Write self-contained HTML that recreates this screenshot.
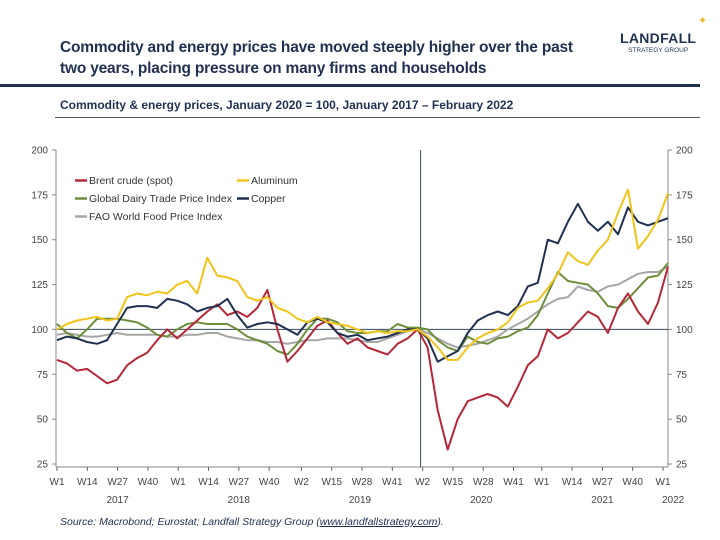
<!DOCTYPE html>
<html><head><meta charset="utf-8">
<style>
body{margin:0;background:#fff;font-family:"Liberation Sans",sans-serif;}
#wrap{position:relative;width:720px;height:540px;overflow:hidden;background:#fff;}
.title{position:absolute;left:60px;top:37px;font-size:15.5px;font-weight:bold;color:#1f3050;line-height:21px;letter-spacing:-0.2px;}
.logo{position:absolute;left:620px;top:30px;color:#1f3050;text-align:center;}
.sub{position:absolute;left:60px;top:98px;font-size:12px;font-weight:bold;color:#1f3050;}
.src{position:absolute;left:60px;top:516px;font-size:10.5px;font-style:italic;color:#1f3050;}
</style></head><body>
<div id="wrap">
<div class="title">Commodity and energy prices have moved steeply higher over the past<br>two years, placing pressure on many firms and households</div>
<div class="logo"><div style="font-size:14px;font-weight:bold;letter-spacing:0.3px">LANDFALL</div><div style="font-size:6.5px;margin-top:1px">STRATEGY GROUP</div><div style="position:absolute;left:78px;top:-16px;color:#e8b830;font-size:11px">✦</div></div>
<div style="position:absolute;left:0;top:84px;width:700px;height:3px;background:#1f3050"></div>
<div class="sub">Commodity &amp; energy prices, January 2020 = 100, January 2017 – February 2022</div>
<div style="position:absolute;left:55px;top:117px;width:645px;height:1px;background:#555"></div>
<svg id="chart" width="720" height="540" style="position:absolute;left:0;top:0"></svg>
<div class="src">Source: Macrobond; Eurostat; Landfall Strategy Group (<span style="text-decoration:underline">www.landfallstrategy.com</span>).</div>
</div>
<script>
const yTicks=[25,50,75,100,125,150,175,200];
const weekLabels=["W1","W14","W27","W40","W1","W14","W27","W40","W2","W15","W28","W41","W2","W15","W28","W41","W1","W14","W27","W40","W1"];
const weekMonths=[0,3,6,9,12,15,18,21,24.2,27.2,30.2,33.2,36.2,39.2,42.2,45.2,48,51,54,57,60];
const yearLabels=["2017","2018","2019","2020","2021","2022"];
const yearMonths=[6,18,30,42,54,61];
const brent=[83,81,77,78,74,70,72,80,84,87,94,100, 95,100,105,110,114,108,110,107,112,122,100,82, 88,95,102,105,98,92,95,90,88,86,92,95, 100,90,55,33,50,60,62,64,62,57,68,80, 85,100,95,98,104,110,107,98,112,120,110,103, 115,135];
const aluminum=[100,103,105,106,107,105,106,118,120,119,121,120, 125,127,120,140,130,129,127,118,116,118,112,110, 106,104,107,104,103,102,100,98,99,98,99,99, 100,96,90,83,83,90,95,98,100,104,112,115, 116,123,131,143,138,136,144,150,165,178,145,152, 161,176];
const dairy=[103,98,95,100,106,106,106,105,104,101,97,96, 100,103,104,103,103,103,100,96,94,92,88,86, 92,100,106,106,104,99,98,98,99,99,103,101, 101,100,94,90,88,96,93,92,95,96,99,101, 108,120,132,127,126,125,120,113,112,117,123,129, 130,137];
const copper=[94,96,95,93,92,94,103,112,113,113,112,117, 116,114,110,112,113,117,108,101,103,104,103,100, 97,104,106,104,98,96,97,94,95,96,98,100, 100,95,82,85,88,98,105,108,110,108,113,124, 126,150,148,160,170,160,155,160,153,168,160,158, 160,162];
const fao=[97,98,97,96,96,97,98,97,97,97,97,96, 96,97,97,98,98,96,95,94,94,93,93,92, 93,94,94,95,95,95,94,93,93,95,97,99, 100,98,95,92,90,91,92,94,96,100,103,106, 110,114,117,118,124,122,121,124,125,128,131,132, 132,135];
const seriesNames=["Brent crude (spot)","Aluminum","Global Dairy Trade Price Index","Copper","FAO World Food Price Index"];
const NS="http://www.w3.org/2000/svg";
const svg=document.getElementById('chart');
const L=57,R=668,T=150,B=464;
function x(t){return L+t*10.1;}
function y(v){return B-(v-25)*(B-T)/175;}
function el(tag,attrs,parent){const e=document.createElementNS(NS,tag);for(const k in attrs)e.setAttribute(k,attrs[k]);(parent||svg).appendChild(e);return e;}
let a=el('line',{x1:L-1,y1:T,x2:L-1,y2:B+3,stroke:'#888','stroke-width':1});


a=el('line',{x1:R,y1:T,x2:R,y2:B+3,stroke:'#888','stroke-width':1});


a=el('line',{x1:L-1,y1:B+3,x2:R,y2:B+3,stroke:'#888','stroke-width':1});


a=el('line',{x1:L,y1:y(100),x2:R,y2:y(100),stroke:'#3a4a5a','stroke-width':1});


a=el('line',{x1:x(36),y1:T,x2:x(36),y2:B+3,stroke:'#3a4a5a','stroke-width':1});


yTicks.forEach(v=>{
 el('line',{x1:L-5,y1:y(v),x2:L-1,y2:y(v),stroke:'#888'});
 el('line',{x1:R,y1:y(v),x2:R+4,y2:y(v),stroke:'#888'});
 let t=el('text',{x:L-9,y:y(v)+3.5,'text-anchor':'end','font-size':'10','fill':'#444'});t.textContent=v;
 
 
 t=el('text',{x:R+8,y:y(v)+3.5,'font-size':'10','fill':'#444'});t.textContent=v;
 
 
});
weekLabels.forEach((w,i)=>{
 const xx=x(weekMonths[i]);
 el('line',{x1:xx,y1:B+3,x2:xx,y2:B+7,stroke:'#666'});
 const t=el('text',{x:xx,y:B+21,'text-anchor':'middle','font-size':'10','fill':'#444'});t.textContent=w;
 
 
});
yearLabels.forEach((yr,i)=>{
 const t=el('text',{x:x(yearMonths[i]),y:B+39,'text-anchor':'middle','font-size':'10','fill':'#444'});t.textContent=yr;
 
 
});
const colors=['#b5283a','#f0c419','#6e8f3a','#1f3050','#a6a6a6'];
const data=[brent,aluminum,dairy,copper,fao];
const order=[4,2,0,3,1];
const slugs=['brent-line','aluminum-line','dairy-line','copper-line','fao-line'];
order.forEach(k=>{
 const d=data[k];const n=d.length;
 const pts=d.map((v,i)=>x(i*60.5/(n-1)).toFixed(1)+','+y(v).toFixed(1)).join(' ');
 const p=el('polyline',{points:pts,fill:'none',stroke:colors[k],'stroke-width':2,'stroke-linejoin':'round'});
 
 
});
const legPos=[[75,184],[237,184],[75,202],[237,202],[75,220]];
seriesNames.forEach((nm,k)=>{
 const g=el('g',{});
 
 
 el('line',{x1:legPos[k][0],y1:legPos[k][1]-3.5,x2:legPos[k][0]+12,y2:legPos[k][1]-3.5,stroke:colors[k],'stroke-width':2.5},g);
 const t=el('text',{x:legPos[k][0]+14,y:legPos[k][1],'font-size':'10.5','fill':'#333'},g);t.textContent=nm;
});
</script>
</body></html>
